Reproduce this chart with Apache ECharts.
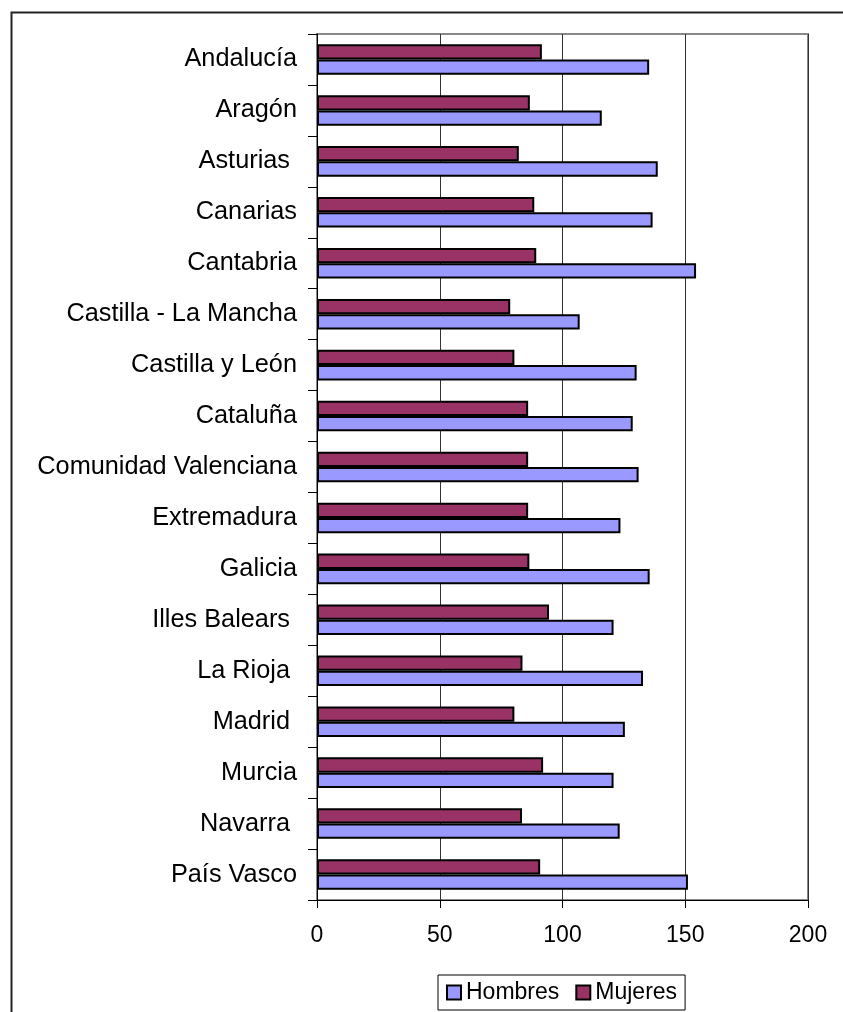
<!DOCTYPE html>
<html>
<head>
<meta charset="utf-8">
<script src="https://cdn.jsdelivr.net/npm/echarts@6/dist/echarts.min.js"></script>
<style>
  html, body { margin: 0; padding: 0; background: #fff; }
  #chart { width: 843px; height: 1012px; }
</style>
</head>
<body>
<div id="chart"></div>
<script>
// Regions (top to bottom)
const regiones = [
  'Andalucía', 'Aragón', 'Asturias ', 'Canarias', 'Cantabria',
  'Castilla - La Mancha', 'Castilla y León', 'Cataluña', 'Comunidad Valenciana',
  'Extremadura', 'Galicia', 'Illes Balears ', 'La Rioja ', 'Madrid ',
  'Murcia', 'Navarra ', 'País Vasco'
];

const hombres = [135.3, 116.0, 138.8, 136.7, 154.4, 107.0, 130.2, 128.6, 131.0,
                 123.6, 135.5, 120.8, 132.8, 125.4, 120.8, 123.3, 151.1];
const mujeres = [91.6, 86.7, 82.2, 88.5, 89.3, 78.7, 80.4, 86.0, 86.0,
                 86.0, 86.5, 94.5, 83.7, 80.4, 92.1, 83.5, 90.9];

const ejeX = { min: 0, max: 200, step: 50 };

const FONT = '"Liberation Sans", Arial, sans-serif';

const chart = echarts.init(document.getElementById('chart'), null, { renderer: 'canvas' });

chart.setOption({
  backgroundColor: '#ffffff',
  animation: false,
  textStyle: { fontFamily: FONT, color: '#000' },
  graphic: [{
    type: 'rect',
    silent: true,
    z: -10,
    shape: { x: 11.5, y: 12.5, width: 900, height: 1100 },
    style: { fill: 'none', stroke: '#222', lineWidth: 2 }
  }],
  grid: {
    left: 317, right: 35, top: 34, bottom: 112,
    show: true,
    backgroundColor: '#fff',
    borderColor: '#888',
    borderWidth: 2
  },
  legend: {
    data: ['Hombres', 'Mujeres'],
    left: 438, top: 975,
    orient: 'horizontal',
    padding: [6, 8, 6, 8],
    itemGap: 16,
    itemWidth: 14, itemHeight: 14,
    icon: 'rect',
    borderColor: '#000', borderWidth: 1,
    itemStyle: { borderColor: '#000', borderWidth: 2 },
    textStyle: { fontFamily: FONT, fontSize: 23, color: '#000', padding: [0, 0, 0, 0] }
  },
  xAxis: {
    type: 'value',
    min: ejeX.min, max: ejeX.max, interval: ejeX.step,
    axisLine: { show: true, lineStyle: { color: '#000', width: 1 } },
    axisTick: { show: true, length: 8, lineStyle: { color: '#000' } },
    axisLabel: { fontFamily: FONT, fontSize: 23, color: '#000', margin: 24 },
    splitLine: { show: true, lineStyle: { color: '#333', width: 1 } }
  },
  yAxis: {
    type: 'category',
    data: regiones,
    inverse: true,
    axisLine: { show: true, lineStyle: { color: '#000', width: 1 } },
    axisTick: { show: true, length: 9, lineStyle: { color: '#000' } },
    axisLabel: { fontFamily: FONT, fontSize: 25.3, color: '#000', margin: 20 },
    splitLine: { show: false }
  },
  series: [
    {
      name: 'Mujeres',
      type: 'bar',
      data: mujeres,
      barGap: '0%',
      barCategoryGap: '40%',
      itemStyle: { color: '#993366', borderColor: '#000', borderWidth: 2 }
    },
    {
      name: 'Hombres',
      type: 'bar',
      data: hombres,
      barGap: '0%',
      barCategoryGap: '40%',
      itemStyle: { color: '#9999FF', borderColor: '#000', borderWidth: 2 }
    }
  ]
});
</script>
</body>
</html>
